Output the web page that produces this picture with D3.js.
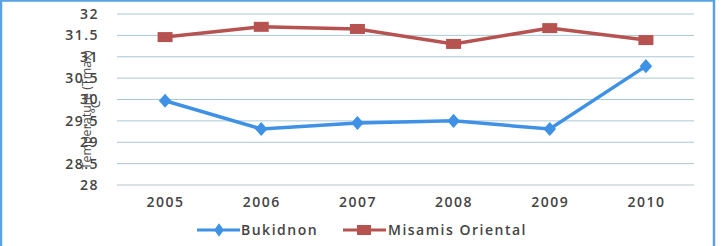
<!DOCTYPE html>
<html>
<head>
<meta charset="utf-8">
<script src="https://cdn.jsdelivr.net/npm/d3@7"></script>
<style>
  body { margin: 0; background: #fff; }
  svg { display: block; font-family: "Open Sans", sans-serif; }
</style>
</head>
<body>
<svg width="728" height="246"></svg>
<script>
var years = ["2005", "2006", "2007", "2008", "2009", "2010"];
var bukidnon = [29.97, 29.31, 29.45, 29.5, 29.31, 30.78];
var misamis = [31.46, 31.7, 31.65, 31.3, 31.67, 31.39];
var yTicks = [28, 28.5, 29, 29.5, 30, 30.5, 31, 31.5, 32];

var svg = d3.select("svg"),
    margin = {left: 117, right: 34, top: 14, bottom: 61},
    width = 728 - margin.left - margin.right,
    height = 246 - margin.top - margin.bottom;

// outer frame (blue border of the scanned chart)
svg.append("rect")
    .attr("x", 1).attr("y", 0.5)
    .attr("width", 713).attr("height", 250)
    .attr("fill", "none")
    .attr("stroke", "#5aa2e6")
    .attr("stroke-width", 2.5);

var g = svg.append("g").attr("transform", "translate(" + margin.left + "," + margin.top + ")");

var x = d3.scalePoint().domain(years).range([0, width]).padding(0.5);
var y = d3.scaleLinear().domain([28, 32]).range([height, 0]);

// gridlines
g.append("g")
    .selectAll("line")
    .data(yTicks)
    .enter().append("line")
    .attr("x1", 0).attr("x2", width)
    .attr("y1", function(d) { return y(d); })
    .attr("y2", function(d) { return y(d); })
    .attr("stroke", function(d) { return d == 28 ? "#b9c3c8" : "#aac9d6"; })
    .attr("stroke-width", 1);

function styleLabels(sel) {
    sel.attr("font-size", 14)
        .attr("font-weight", 600)
        .attr("letter-spacing", 1.5)
        .attr("fill", "#444")
        .attr("font-family", "Open Sans, sans-serif");
}

// y axis
var yAxis = g.append("g")
    .call(d3.axisLeft(y).tickValues(yTicks).tickSize(0).tickPadding(18).tickFormat(d3.format("")));
yAxis.select(".domain").remove();
yAxis.selectAll("text").call(styleLabels);

// x axis
var xAxis = g.append("g")
    .attr("transform", "translate(0," + height + ")")
    .call(d3.axisBottom(x).tickSize(0).tickPadding(12));
xAxis.select(".domain").remove();
xAxis.selectAll("text").call(styleLabels);

// axis title, overlapping the tick labels like in the scan
var title = svg.append("text")
    .attr("transform", "translate(91,110) rotate(-90)")
    .attr("text-anchor", "middle")
    .attr("font-size", 12.5)
    .attr("fill", "#4a4a4a");
title.append("tspan").attr("x", 0).attr("dy", 0).text("Temperature (Tmax)");
title.append("tspan").attr("x", 3).attr("dy", 9).text("°C");

var line = d3.line()
    .x(function(d, i) { return x(years[i]); })
    .y(function(d) { return y(d); });

var blue = "#3f91e5", red = "#b65350";

g.append("path")
    .datum(bukidnon)
    .attr("d", line)
    .attr("fill", "none")
    .attr("stroke", blue)
    .attr("stroke-width", 3.5);

g.append("path")
    .datum(misamis)
    .attr("d", line)
    .attr("fill", "none")
    .attr("stroke", red)
    .attr("stroke-width", 3.5);

var diamond = d3.symbol().type(d3.symbolDiamond).size(80);

g.selectAll(".dot-b")
    .data(bukidnon)
    .enter().append("path")
    .attr("class", "dot-b")
    .attr("d", diamond)
    .attr("transform", function(d, i) { return "translate(" + x(years[i]) + "," + y(d) + ") scale(1.3,0.85)"; })
    .attr("fill", blue);

g.selectAll(".dot-m")
    .data(misamis)
    .enter().append("rect")
    .attr("class", "dot-m")
    .attr("x", function(d, i) { return x(years[i]) - 7.5; })
    .attr("y", function(d) { return y(d) - 5; })
    .attr("width", 15)
    .attr("height", 10)
    .attr("fill", red);

// legend
var legend = svg.append("g").attr("transform", "translate(0,230)");
legend.append("line").attr("x1", 197).attr("x2", 240).attr("stroke", blue).attr("stroke-width", 3);
legend.append("path").attr("d", diamond).attr("transform", "translate(219,0) scale(1,0.8)").attr("fill", blue);
legend.append("text").attr("x", 241).attr("y", 5).call(styleLabels).text("Bukidnon");

legend.append("line").attr("x1", 343).attr("x2", 386).attr("stroke", red).attr("stroke-width", 3);
legend.append("rect").attr("x", 357).attr("y", -5).attr("width", 14).attr("height", 10).attr("fill", red);
legend.append("text").attr("x", 388).attr("y", 5).call(styleLabels).text("Misamis Oriental");
</script>
</body>
</html>
